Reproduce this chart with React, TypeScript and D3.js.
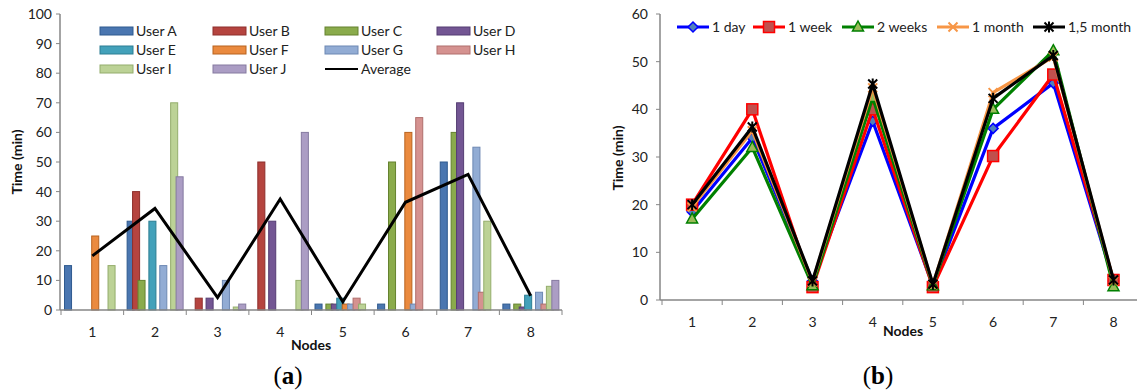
import React from "react";
import * as d3 from "d3";

const nodes = ["1", "2", "3", "4", "5", "6", "7", "8"];
const users = ["User A", "User B", "User C", "User D", "User E", "User F", "User G", "User H", "User I", "User J"];
const userColors = ["#4a76b0", "#b5443f", "#8aab4c", "#735693", "#43a1ba", "#ea8a3f", "#92acd4", "#d59290", "#bcd296", "#ab9dc4"];
const userStroke = ["#2f5a8f", "#8e2f2c", "#65822f", "#553d73", "#2c7e93", "#b8631f", "#6d88b3", "#b06e6c", "#94ad6c", "#857aa0"];

// values per user across nodes 1..8
const userA = [15, 30, 0, 0, 2, 2, 50, 2];
const userB = [0, 40, 4, 50, 0, 0, 0, 0];
const userC = [0, 10, 0, 0, 2, 50, 60, 2];
const userD = [0, 0, 4, 30, 2, 0, 70, 1];
const userE = [0, 30, 0, 0, 4, 0, 0, 5];
const userF = [25, 0, 0, 0, 2, 60, 0, 0];
const userG = [0, 15, 10, 0, 2, 2, 55, 6];
const userH = [0, 0, 0, 0, 4, 65, 6, 2];
const userI = [15, 70, 1, 10, 2, 0, 30, 8];
const userJ = [0, 45, 2, 60, 0, 0, 0, 10];
const userValues = [userA, userB, userC, userD, userE, userF, userG, userH, userI, userJ];
const average = [18.3, 34.3, 4.2, 37.5, 2.8, 36.4, 45.8, 4.8];

const leftTicks = [0, 10, 20, 30, 40, 50, 60, 70, 80, 90, 100];
const rightTicks = [0, 10, 20, 30, 40, 50, 60];

const periods = ["1 day", "1 week", "2 weeks", "1 month", "1,5 month"];
const day1 = [18.5, 34, 4, 37.5, 3, 36, 45.5, 4];
const week1 = [20, 40, 2.7, 40, 2.7, 30.2, 47.3, 4.2];
const weeks2 = [17, 32, 3, 42.5, 3, 40, 52.3, 2.8];
const month1 = [19.5, 35.5, 3.8, 44.5, 3.2, 43.5, 51, 4];
const month15 = [20, 36.3, 4, 45.3, 3.3, 42.3, 51.3, 4.2];
const periodValues = [day1, week1, weeks2, month1, month15];
const periodColors = ["#0000ff", "#ff0000", "#008000", "#f79646", "#000000"];

const FONT = "Lato, 'Open Sans', sans-serif";
const AXIS = "#868686";

function Marker({ kind, x, y }: { kind: number; x: number; y: number }) {
  if (kind === 0) {
    const s = 5;
    return <path d={`M${x},${y - s}L${x + s},${y}L${x},${y + s}L${x - s},${y}Z`} fill="#4f81bd" stroke="#0000ff" strokeWidth={1.5} />;
  }
  if (kind === 1) {
    return <rect x={x - 5.5} y={y - 5.5} width={11} height={11} fill="#c0504d" stroke="#ff0000" strokeWidth={1.5} />;
  }
  if (kind === 2) {
    return <path d={`M${x},${y - 6}L${x + 5.5},${y + 4}L${x - 5.5},${y + 4}Z`} fill="#9bbb59" stroke="#008000" strokeWidth={1.5} />;
  }
  if (kind === 3) {
    const s = 4.5;
    return <path d={`M${x - s},${y - s}L${x + s},${y + s}M${x - s},${y + s}L${x + s},${y - s}`} stroke="#f79646" strokeWidth={2} fill="none" />;
  }
  const s = 4.5;
  return (
    <path
      d={`M${x - s},${y - s}L${x + s},${y + s}M${x - s},${y + s}L${x + s},${y - s}M${x},${y - s - 1}L${x},${y + s + 1}`}
      stroke="#000"
      strokeWidth={2}
      fill="none"
    />
  );
}

export default function App() {
  // Left chart scales
  const xL = d3.scaleBand<string>().domain(nodes).range([61, 562]);
  const yL = d3.scaleLinear().domain([0, 100]).range([310, 14]);
  const inner = d3.scaleBand<string>().domain(users).range([3.5, 3.5 + 10 * 5.44]);
  const barW = inner.step() + 1.6;
  const avgLine = d3
    .line<number>()
    .x((_, i) => (xL(nodes[i]) as number) + xL.bandwidth() / 2)
    .y((d) => yL(d));

  // Right chart scales
  const xR = d3.scaleBand<string>().domain(nodes).range([662, 662 + 8 * 60.2]);
  const yR = d3.scaleLinear().domain([0, 60]).range([300, 14]);
  const pLine = d3
    .line<number>()
    .x((_, i) => (xR(nodes[i]) as number) + xR.bandwidth() / 2)
    .y((d) => yR(d));

  const legCols = [100, 213, 325, 437];
  const legRows = [31, 50, 69];
  const rightLegX = [677, 753, 842, 937, 1033];

  return (
    <svg
      width={1137}
      height={392}
      style={{ position: "absolute", left: 0, top: 0, background: "#fff" }}
      fontFamily={FONT}
    >
      <rect width={1137} height={392} fill="#fff" />
      {/* ===== Left chart ===== */}
      {leftTicks.map((t) => (
        <g key={"lt" + t}>
          <line x1={56} x2={60} y1={yL(t)} y2={yL(t)} stroke={AXIS} />
          <text x={52} y={yL(t) + 5} textAnchor="end" fontSize={14} fill="#222">
            {t}
          </text>
        </g>
      ))}
      {userValues.map((vals, ui) =>
        vals.map((v, ni) =>
          v > 0 ? (
            <rect
              key={`b${ui}-${ni}`}
              x={(xL(nodes[ni]) as number) + (inner(users[ui]) as number)}
              y={yL(v)}
              width={barW}
              height={yL(0) - yL(v)}
              fill={userColors[ui]}
              stroke={userStroke[ui]}
              strokeWidth={1}
            />
          ) : null
        )
      )}
      <line x1={60} x2={60} y1={yL(100)} y2={yL(0)} stroke={AXIS} strokeWidth={1.5} />
      <line x1={60} x2={562} y1={yL(0)} y2={yL(0)} stroke={AXIS} strokeWidth={1.5} />
      {nodes.map((n) => (
        <line key={"xt" + n} x1={xL(n) as number} x2={xL(n) as number} y1={yL(0)} y2={yL(0) + 5} stroke={AXIS} />
      ))}
      <line x1={562} x2={562} y1={yL(0)} y2={yL(0) + 5} stroke={AXIS} />
      <path d={avgLine(average) || ""} fill="none" stroke="#000" strokeWidth={3} />
      {nodes.map((n) => (
        <text key={"xl" + n} x={(xL(n) as number) + xL.bandwidth() / 2} y={337} textAnchor="middle" fontSize={14} fill="#222">
          {n}
        </text>
      ))}
      <text x={311} y={350} textAnchor="middle" fontSize={14} fontWeight="bold" fill="#111">
        Nodes
      </text>
      <text transform="translate(22,162) rotate(-90)" textAnchor="middle" fontSize={14} fontWeight="bold" fill="#111">
        Time (min)
      </text>
      {/* legend */}
      {users.map((u, i) => {
        const col = i < 8 ? i % 4 : i - 8;
        const row = i < 8 ? Math.floor(i / 4) : 2;
        const x = legCols[col];
        const y = legRows[row];
        return (
          <g key={"lg" + u}>
            <rect x={x} y={y - 4} width={33} height={8} fill={userColors[i]} stroke={userStroke[i]} strokeWidth={1} />
            <text x={x + 36} y={y + 5} fontSize={14} fill="#222">
              {u}
            </text>
          </g>
        );
      })}
      <line x1={legCols[2]} x2={legCols[2] + 33} y1={legRows[2]} y2={legRows[2]} stroke="#000" strokeWidth={2} />
      <text x={legCols[2] + 36} y={legRows[2] + 5} fontSize={14} fill="#222">
        Average
      </text>

      {/* ===== Right chart ===== */}
      {rightTicks.map((t) => (
        <g key={"rt" + t}>
          <line x1={656} x2={660} y1={yR(t)} y2={yR(t)} stroke={AXIS} />
          <text x={648} y={yR(t) + 5} textAnchor="end" fontSize={14} fill="#222">
            {t}
          </text>
        </g>
      ))}
      <line x1={660} x2={660} y1={yR(60)} y2={yR(0)} stroke={AXIS} strokeWidth={1.5} />
      <line x1={660} x2={1137} y1={yR(0)} y2={yR(0)} stroke={AXIS} strokeWidth={1.5} />
      {nodes.map((n) => (
        <line key={"rxt" + n} x1={xR(n) as number} x2={xR(n) as number} y1={yR(0)} y2={yR(0) + 5} stroke={AXIS} />
      ))}
      {periodValues.map((vals, pi) => (
        <g key={"p" + pi}>
          <path d={pLine(vals) || ""} fill="none" stroke={periodColors[pi]} strokeWidth={3.2} strokeLinejoin="round" />
          {vals.map((v, ni) => (
            <Marker key={ni} kind={pi} x={(xR(nodes[ni]) as number) + xR.bandwidth() / 2} y={yR(v)} />
          ))}
        </g>
      ))}
      {nodes.map((n) => (
        <text key={"rxl" + n} x={(xR(n) as number) + xR.bandwidth() / 2} y={327} textAnchor="middle" fontSize={14} fill="#222">
          {n}
        </text>
      ))}
      <text x={903} y={336} textAnchor="middle" fontSize={14} fontWeight="bold" fill="#111">
        Nodes
      </text>
      <text transform="translate(623,158) rotate(-90)" textAnchor="middle" fontSize={14} fontWeight="bold" fill="#111">
        Time (min)
      </text>
      {periods.map((p, i) => (
        <g key={"rl" + p}>
          <line x1={rightLegX[i]} x2={rightLegX[i] + 32} y1={27} y2={27} stroke={periodColors[i]} strokeWidth={3} />
          <Marker kind={i} x={rightLegX[i] + 16} y={27} />
          <text x={rightLegX[i] + 35} y={32} fontSize={14} fill="#222">
            {p}
          </text>
        </g>
      ))}

      {/* captions */}
      <text x={288} y={384} textAnchor="middle" fontSize={25} fontFamily="'Liberation Serif', 'DejaVu Serif', serif" fill="#000">
        (<tspan fontWeight="bold">a</tspan>)
      </text>
      <text x={878} y={384} textAnchor="middle" fontSize={25} fontFamily="'Liberation Serif', 'DejaVu Serif', serif" fill="#000">
        (<tspan fontWeight="bold">b</tspan>)
      </text>
    </svg>
  );
}
